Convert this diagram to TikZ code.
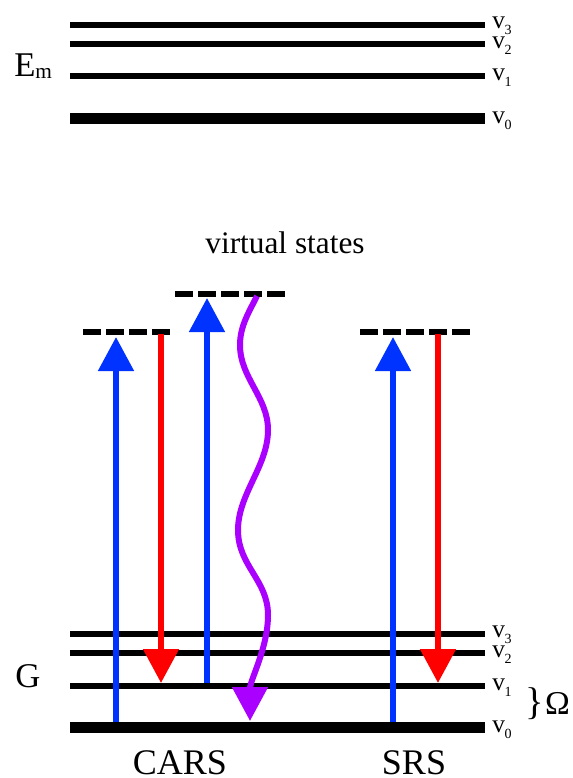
\documentclass[tikz,border=0pt]{standalone}
\usepackage{fontspec}
\setmainfont{Liberation Serif}
\usetikzlibrary{arrows.meta}
\definecolor{pumpblue}{RGB}{0,51,255}
\definecolor{stokesred}{RGB}{255,0,0}
\definecolor{antistokes}{RGB}{170,0,255}
\newcommand{\vlev}[1]{v\kern-0.3pt\raisebox{-5pt}{\fontsize{10.5}{10.5}\selectfont #1}}

\begin{document}
\begin{tikzpicture}[
    x=0.75pt, y=-0.75pt,
    level/.style={line width=4.3pt},
    ground/.style={line width=8.25pt},
    virtual/.style={line width=4pt, dash pattern=on 13.5pt off 3.75pt},
    beam/.style={line width=4.5pt, -{Triangle[length=25.5pt, width=26pt]}},
    vlabel/.style={anchor=base west, inner sep=0pt, text height=9pt, text depth=3pt,
                   font=\fontsize{19}{19}\selectfont},
    big/.style={inner sep=0pt, text depth=0pt, font=\fontsize{26}{26}\selectfont}
]
    \useasboundingbox (0,0) rectangle (572,778);

    % Excited electronic state
    \coordinate (e3l) at (70,25);  \coordinate (e3r) at (485,25);
    \coordinate (e2l) at (70,44);  \coordinate (e2r) at (485,44);
    \coordinate (e1l) at (70,76);  \coordinate (e1r) at (485,76);
    \coordinate (e0l) at (70,118); \coordinate (e0r) at (485,118);
    \draw[level]  (e3l) -- (e3r);
    \draw[level]  (e2l) -- (e2r);
    \draw[level]  (e1l) -- (e1r);
    \draw[ground] (e0l) -- (e0r);
    \node[vlabel] (ev3) at (492,28)  {\vlev{3}};
    \node[vlabel] (ev2) at (492,48)  {\vlev{2}};
    \node[vlabel] (ev1) at (492,80)  {\vlev{1}};
    \node[vlabel] (ev0) at (492,123) {\vlev{0}};
    \node[big, anchor=base west] (em) at (14,76) {E\raisebox{-2pt}{\fontsize{16}{16}\selectfont m}};

    % Ground electronic state
    \coordinate (g3l) at (70,634); \coordinate (g3r) at (485,634);
    \coordinate (g2l) at (70,653); \coordinate (g2r) at (485,653);
    \coordinate (g1l) at (70,686); \coordinate (g1r) at (485,686);
    \coordinate (g0l) at (70,727); \coordinate (g0r) at (485,727);
    \draw[level]  (g3l) -- (g3r);
    \draw[level]  (g2l) -- (g2r);
    \draw[level]  (g1l) -- (g1r);
    \draw[ground] (g0l) -- (g0r);
    \node[vlabel] (gv3) at (492,637) {\vlev{3}};
    \node[vlabel] (gv2) at (492,657) {\vlev{2}};
    \node[vlabel] (gv1) at (492,690) {\vlev{1}};
    \node[vlabel] (gv0) at (492,732) {\vlev{0}};
    \node[big, anchor=base west] (g) at (15,687) {G};

    % Virtual states
    \coordinate (vcl) at (83,332);  \coordinate (vcr) at (171,332);
    \coordinate (val) at (175,294); \coordinate (var) at (287,294);
    \coordinate (vsl) at (360,332); \coordinate (vsr) at (471,332);
    \draw[virtual] (vcl) -- (vcr);
    \draw[virtual] (val) -- (var);
    \draw[virtual] (vsl) -- (vsr);
    \node[inner sep=0pt, anchor=base, font=\fontsize{23.5}{23.5}\selectfont] (virt) at (285,253) {virtual states};

    % CARS
    \coordinate (cp0) at (116,722); \coordinate (cp1) at (116,337);
    \coordinate (cs0) at (161,334); \coordinate (cs1) at (161,683);
    \coordinate (cq0) at (207,683); \coordinate (cq1) at (207,298);
    \coordinate (ca0) at (257,296); \coordinate (ca1) at (250,721);
    \draw[beam, pumpblue]  (cp0) -- (cp1);
    \draw[beam, stokesred] (cs0) -- (cs1);
    \draw[beam, pumpblue]  (cq0) -- (cq1);
    \draw[beam, antistokes] (ca0)
        .. controls (249,312) and (240,326) .. (240,345)
        .. controls (240,378) and (268,397) .. (268,430)
        .. controls (268,466) and (238,494) .. (238,530)
        .. controls (238,566) and (268,580) .. (268,615)
        .. controls (268,648) and (250,680) .. (ca1);

    % SRS
    \coordinate (sp0) at (393,722); \coordinate (sp1) at (393,337);
    \coordinate (ss0) at (438,334); \coordinate (ss1) at (438,683);
    \draw[beam, pumpblue]  (sp0) -- (sp1);
    \draw[beam, stokesred] (ss0) -- (ss1);

    % Labels
    \node[big, anchor=base, font=\fontsize{27}{27}\selectfont] (cars) at (180,774) {CARS};
    \node[big, anchor=base, font=\fontsize{27}{27}\selectfont] (srs)  at (414,774) {SRS};
    \node[inner sep=0pt, text depth=0pt, anchor=base west] (omega) at (525,714)
        {{\fontsize{29}{29}\selectfont\}}\kern1pt{\fontsize{25}{25}\selectfont Ω}};
\end{tikzpicture}
\end{document}
